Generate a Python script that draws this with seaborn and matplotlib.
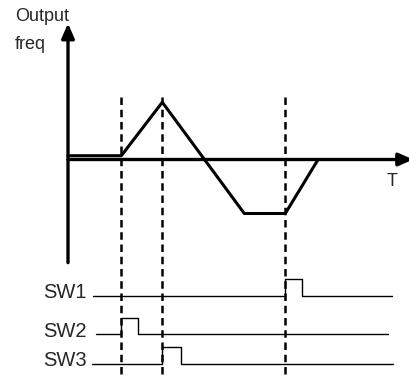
import numpy as np
import pandas as pd
import matplotlib
matplotlib.use("Agg")
import matplotlib.pyplot as plt
import seaborn as sns

# output frequency profile (time units, frequency units)
freq_t = [0, 1.3, 2.3, 4.3, 5.3, 6.1]
freq_v = [0.07, 0.07, 1.06, -1.0, -1.0, 0.0]

# switch events
event_t = [1.3, 2.3, 5.3]
sw_names = ["SW1", "SW2", "SW3"]
sw_on = [5.3, 1.3, 2.3]
sw_off = [5.7, 1.7, 2.75]
sw_start = [0.61, 0.68, 0.59]
sw_end = [7.9, 7.8, 7.93]

# layout
row_base = [-2.52, -3.24, -3.78]
pulse_h = 0.31

sns.set_style("white")
plt.rcParams["font.family"] = ["Liberation Sans", "DejaVu Sans"]

fig = plt.figure(figsize=(4.09, 3.76), dpi=100)
ax = fig.add_axes([0, 0, 1, 1])
ax.set_xlim(-68 / 41, (409 - 68) / 41)
ax.set_ylim(-(376 - 159.5) / 54, 159.5 / 54)
ax.axis("off")

# axes with arrow heads
arrow = dict(arrowstyle="-|>,head_length=0.8,head_width=0.35", lw=2.4,
             color="black", mutation_scale=11, shrinkA=0, shrinkB=0)
ax.annotate("", xy=(0, 2.52), xytext=(0, -1.91), arrowprops=arrow,
            annotation_clip=False)
ax.annotate("", xy=(8.42, 0), xytext=(0, 0), arrowprops=arrow,
            annotation_clip=False)

# frequency curve
sns.lineplot(x=freq_t, y=freq_v, sort=False, color="black", lw=2.2, ax=ax)

# dashed event markers
for t in event_t:
    ax.plot([t, t], [1.15, -4.2], color="black", lw=1.8,
            linestyle=(0, (3.0, 1.9)))

# switch waveforms
rows = []
for name, base, on, off, a, b in zip(sw_names, row_base, sw_on, sw_off, sw_start, sw_end):
    ts = [a, on, on, off, off, b]
    vs = [base, base, base + pulse_h, base + pulse_h, base, base]
    rows += [{"sig": name, "t": t, "v": v} for t, v in zip(ts, vs)]
waves = pd.DataFrame(rows)
sns.lineplot(data=waves, x="t", y="v", units="sig", estimator=None, sort=False,
             color="black", lw=1.0, ax=ax)

for name, base in zip(sw_names, row_base):
    ax.text(0.46, base + 0.06, name, ha="right", va="center", fontsize=14.5)

ax.text(-1.29, 2.57, "Output", ha="left", va="baseline", fontsize=13)
ax.text(-1.29, 2.05, "freq", ha="left", va="baseline", fontsize=13)
ax.text(7.9, -0.4, "T", ha="center", va="center", fontsize=13)

fig.savefig("out.png", dpi=100)
